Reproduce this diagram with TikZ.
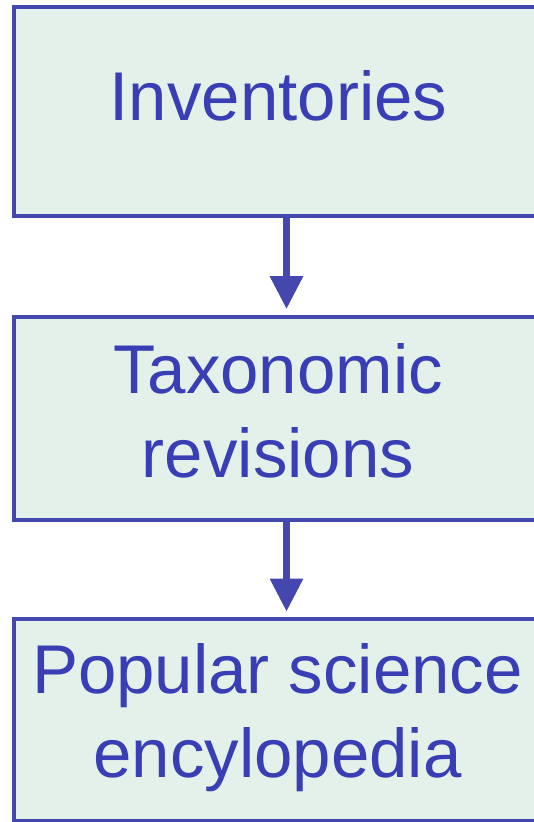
\documentclass[tikz,border=0pt]{standalone}
\usepackage{fontspec}
\setmainfont{Liberation Sans}
\usepackage{xcolor}
\usetikzlibrary{arrows.meta}
\definecolor{box-blue}{HTML}{4347AE}
\definecolor{text-blue}{HTML}{3A3EB4}
\definecolor{box-fill}{HTML}{E4F1EA}

\begin{document}
\begin{tikzpicture}[x=1pt, y=1pt,
      box/.style={draw=box-blue, fill=box-fill, line width=4pt,
          minimum width=527pt, inner sep=0pt},
      lbl/.style={text=text-blue, align=center, anchor=base,
          font=\fontsize{69}{83.5}\selectfont},
      flow/.style={draw=box-blue, line width=6.5pt,
          -{Triangle[width=32pt, length=33pt]}}]
    \useasboundingbox (0,0) rectangle (534,-822);
    \clip (0,0) rectangle (534,-822);
    \node[box, minimum height=209.5pt] (inv) at (277,-111.25) {};
    \node[box, minimum height=203.5pt] (tax) at (277,-418.25) {};
    \node[box, minimum height=202pt] (pop) at (277,-720) {};
    \node[lbl] (invT) at (278.5,-120) {Inventories};
    \node[lbl] (taxT) at (278,-477) {Taxonomic\\revisions};
    \node[lbl] (popT) at (277.5,-777) {Popular science\\encylopedia};
    \draw[flow] ([xshift=9.5pt]inv.south) -- ([xshift=9.5pt, yshift=5.5pt]tax.north);
    \draw[flow] ([xshift=9.5pt]tax.south) -- ([xshift=9.5pt, yshift=5.5pt]pop.north);
  \end{tikzpicture}
\end{document}
